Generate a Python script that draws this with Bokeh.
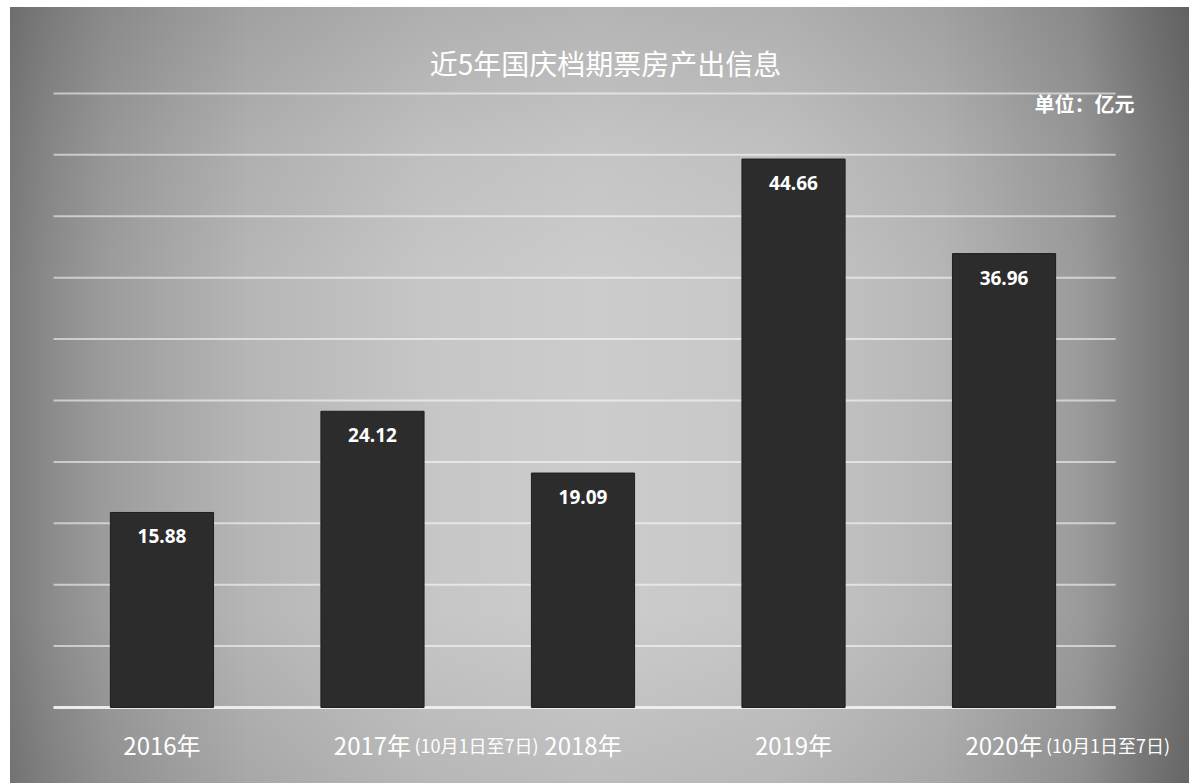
from bokeh.plotting import figure
from bokeh.models import ColumnDataSource, Label, Range1d
from bokeh.core.properties import value
from bokeh.embed import file_html
from bokeh.resources import INLINE

# ---- data ----
categories = ["2016年", "2017年", "2018年", "2019年", "2020年"]
notes = ["", "(10月1日至7日)", "", "", "(10月1日至7日)"]
values = [15.88, 24.12, 19.09, 44.66, 36.96]
grid_ticks = [0, 5, 10, 15, 20, 25, 30, 35, 40, 45, 50]
title_text = "近5年国庆档期票房产出信息"
unit_text = "单位：亿元"

CJK = "Noto Sans CJK SC"

pos = list(range(len(categories)))
src = ColumnDataSource(dict(
    x=pos,
    top=values,
    cat=categories,
    note=notes,
    lab=[f"{v:.2f}" for v in values],
    zero=[0] * len(categories),
))

# the frame covers the whole canvas; the ranges are chosen so that the
# bars, baseline and grid land where they do in the reference
p = figure(
    width=1189, height=783,
    x_range=Range1d(-0.767, 4.881),
    y_range=Range1d(-6.19, 57.57),
    output_backend="svg", toolbar_location=None,
    min_border=0,
)
p.background_fill_color = None
p.border_fill_color = None
p.outline_line_color = None
p.xaxis.visible = False
p.yaxis.visible = False
p.grid.visible = False
p.styles = {
    "background": (
        "linear-gradient(to right, #ffffff 10px, rgba(255,255,255,0) 10px), "
        "linear-gradient(to bottom, #ffffff 7px, rgba(255,255,255,0) 7px), "
        "linear-gradient(to bottom, rgba(0,0,0,0.12) 0%, rgba(0,0,0,0.04) 18%, "
        "rgba(0,0,0,0) 36%, rgba(0,0,0,0) 78%, rgba(0,0,0,0.08) 100%), "
        "linear-gradient(to right, #787878 0%, #8a8a8a 4%, #9c9c9c 9%, "
        "#b6b6b6 21%, #c6c6c6 36%, #cccccc 50%, #c6c6c6 66%, #b6b6b6 79%, "
        "#9a9a9a 91%, #808080 96%, #6e6e6e 100%)"
    )
}

# gridlines (value ticks every 5, spanning the plotting width)
gx0, gx1 = -0.515, 4.53
p.segment(x0=[gx0] * len(grid_ticks), x1=[gx1] * len(grid_ticks),
          y0=grid_ticks, y1=grid_ticks,
          line_color="white", line_alpha=0.55, line_width=2)
# baseline
p.segment(x0=[gx0], x1=[gx1], y0=[grid_ticks[0]], y1=[grid_ticks[0]],
          line_color="#eeeeee", line_alpha=0.95, line_width=3)

p.vbar(x="x", top="top", width=0.49, source=src,
       fill_color="#2c2c2c", line_color="#1e1e1e", line_width=1)

# value labels inside bars
p.text(x="x", y="top", text="lab", source=src,
       text_color="white", text_font_size="19px", text_font_style="bold",
       text_align="center", text_baseline="middle", y_offset=24,
       text_font=value("Noto Sans"))

# category labels
p.text(x="x", y="zero", text="cat", source=src,
       text_color="white", text_font_size="24px",
       text_align="center", text_baseline="middle", y_offset=37,
       text_font=value(CJK))
p.text(x="x", y="zero", text="note", source=src,
       text_color="white", text_font_size="18px",
       text_align="left", text_baseline="middle", x_offset=42, y_offset=38,
       text_font=value(CJK))

p.add_layout(Label(x=2.107, y=52.5, text=title_text,
                   text_align="center", text_baseline="middle",
                   text_color="white", text_font=CJK,
                   text_font_size="28px"))
p.add_layout(Label(x=4.382, y=49.2, text=unit_text,
                   text_align="center", text_baseline="middle",
                   text_color="white", text_font=CJK,
                   text_font_size="20px", text_font_style="bold"))

open("out.html", "w").write(file_html(p, INLINE))
